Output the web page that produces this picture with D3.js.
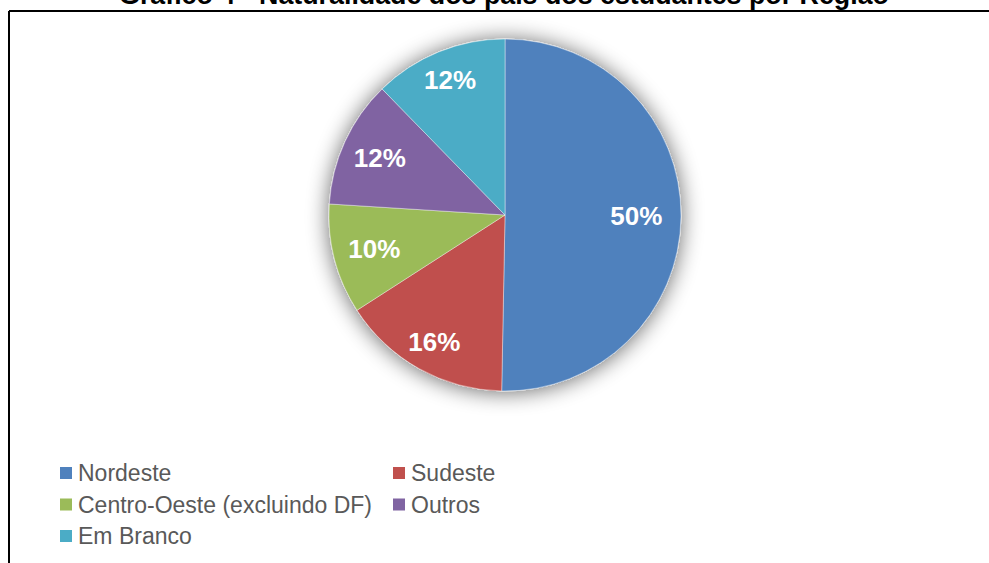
<!DOCTYPE html>
<html>
<head>
<meta charset="utf-8">
<script src="https://cdn.jsdelivr.net/npm/d3@7"></script>
<style>
  body { margin: 0; background: #fff; }
  svg { display: block; font-family: "Liberation Sans", Arial, sans-serif; }
</style>
</head>
<body>
<div id="chart"></div>
<script>
// Chart data
const categories = ["Nordeste", "Sudeste", "Centro-Oeste (excluindo DF)", "Outros", "Em Branco"];
const values = [50.3, 15.6, 10.1, 11.7, 12.3];
const labels = ["50%", "16%", "10%", "12%", "12%"];
const colors = ["#4F81BD", "#C0504D", "#9BBB59", "#8064A2", "#4BACC6"];
const title = "Gráfico 4 - Naturalidade dos pais dos estudantes por Região";

const width = 989;
const height = 563;
const cx = 505, cy = 215, radius = 176;

const svg = d3.select("#chart").append("svg")
    .attr("width", width)
    .attr("height", height);

// soft shadow behind the pie
const defs = svg.append("defs");
const filter = defs.append("filter")
    .attr("id", "shadow")
    .attr("x", "-30%").attr("y", "-30%")
    .attr("width", "160%").attr("height", "160%");
filter.append("feGaussianBlur").attr("in", "SourceAlpha").attr("stdDeviation", 11).attr("result", "blur");
filter.append("feOffset").attr("in", "blur").attr("dx", 0).attr("dy", 1).attr("result", "off");
filter.append("feComponentTransfer").attr("in", "off").attr("result", "shade")
    .append("feFuncA").attr("type", "linear").attr("slope", 0.6);
const merge = filter.append("feMerge");
merge.append("feMergeNode").attr("in", "shade");
merge.append("feMergeNode").attr("in", "SourceGraphic");

// frame (left and top edges visible)
svg.append("line")
    .attr("x1", 9).attr("x2", 9).attr("y1", 11).attr("y2", height)
    .attr("stroke", "#000").attr("stroke-width", 2);
svg.append("line")
    .attr("x1", 9).attr("x2", width).attr("y1", 11).attr("y2", 11)
    .attr("stroke", "#000").attr("stroke-width", 2);

// title, clipped at the top as in the original
svg.append("text")
    .attr("x", 504)
    .attr("y", 4)
    .attr("text-anchor", "middle")
    .attr("font-size", 26.8)
    .attr("font-weight", "bold")
    .attr("fill", "#000")
    .text(title);

const pie = d3.pie().sort(null).value(d => d);
const arcs = pie(values);
const arc = d3.arc().innerRadius(0).outerRadius(radius);

// labels sit closer to the rim where the slice points up or down
function labelPos(d) {
    const a = (d.startAngle + d.endAngle) / 2;
    const r = radius * (0.745 + 0.09 * Math.abs(Math.cos(a)));
    return [Math.sin(a) * r, -Math.cos(a) * r];
}

const g = svg.append("g").attr("transform", `translate(${cx},${cy})`);

g.append("g")
    .attr("filter", "url(#shadow)")
    .selectAll("path")
    .data(arcs)
    .enter().append("path")
    .attr("d", arc)
    .attr("fill", (d, i) => colors[i])
    .attr("stroke", "rgba(255,255,255,0.5)")
    .attr("stroke-width", 0.8);

g.selectAll(".label")
    .data(arcs)
    .enter().append("text")
    .attr("class", "label")
    .attr("transform", d => `translate(${labelPos(d)})`)
    .attr("text-anchor", "middle")
    .attr("dy", "0.35em")
    .attr("font-size", 26)
    .attr("font-weight", "bold")
    .attr("fill", "#fff")
    .text((d, i) => labels[i]);

// legend: two columns
const colX = [60, 393];
const rowY = [473, 504.5, 536];
const legend = svg.append("g").attr("id", "legend");
const items = legend.selectAll(".legend-item")
    .data(categories)
    .enter().append("g")
    .attr("class", "legend-item")
    .attr("transform", (d, i) => `translate(${colX[i % 2]},${rowY[Math.floor(i / 2)]})`);

items.append("rect")
    .attr("x", 0).attr("y", -6)
    .attr("width", 12).attr("height", 12)
    .attr("fill", (d, i) => colors[i]);

items.append("text")
    .attr("x", 18)
    .attr("y", 0)
    .attr("dy", "0.36em")
    .attr("font-size", 23)
    .attr("fill", "#595959")
    .text(d => d);
</script>
</body>
</html>
